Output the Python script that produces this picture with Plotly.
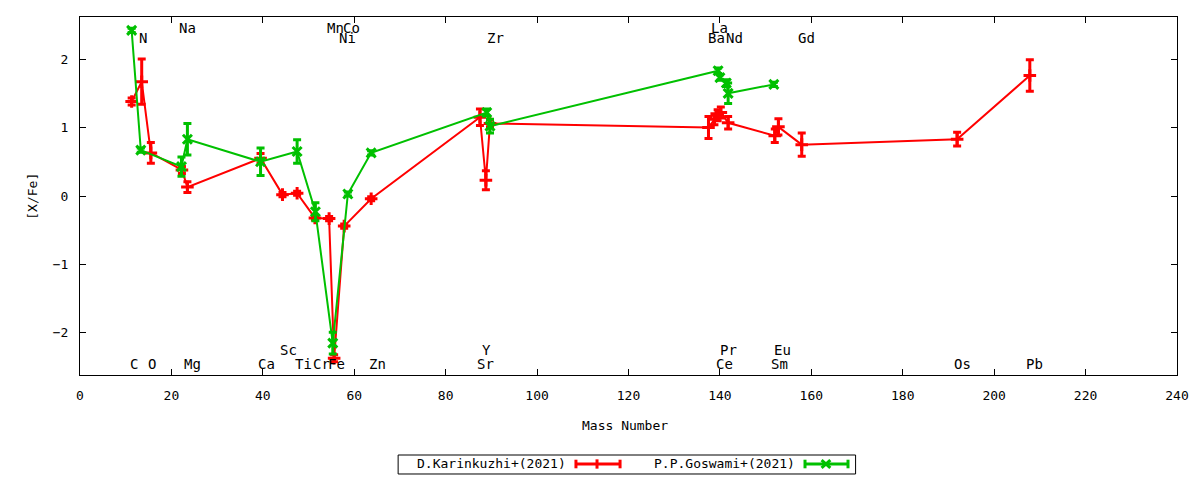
import plotly.graph_objects as go

# D.Karinkuzhi+(2021)
kar_mass = [11.3, 13.5, 15.5, 22.3, 23.5, 39.5, 44.3, 47.5, 51.4, 54.5, 55.6, 57.8, 63.7,
            87.5, 88.8, 89.7, 137.5, 138.8, 139.5, 140.2, 141.8, 152.0, 152.8, 157.9, 191.9, 207.8]
kar_xfe = [1.38, 1.67, 0.63, 0.38, 0.13, 0.55, 0.02, 0.04, -0.32, -0.33, -2.37, -0.44, -0.04,
           1.15, 0.23, 1.06, 1.00, 1.12, 1.18, 1.22, 1.07, 0.88, 1.01, 0.75, 0.83, 1.76]
kar_err = [0.05, 0.33, 0.15, 0.05, 0.08, 0.07, 0.03, 0.03, 0.03, 0.03, 0.05, 0.03, 0.03,
           0.12, 0.14, 0.05, 0.16, 0.08, 0.08, 0.08, 0.09, 0.10, 0.12, 0.17, 0.10, 0.23]

# P.P.Goswami+(2021)
gos_mass = [11.3, 13.3, 22.2, 23.5, 39.5, 47.5, 51.5, 55.3, 58.6, 63.7, 89.0, 89.7,
            139.6, 140.0, 141.4, 141.8, 151.8]
gos_xfe = [2.42, 0.67, 0.43, 0.83, 0.50, 0.65, -0.23, -2.15, 0.03, 0.63, 1.22, 1.02,
           1.83, 1.73, 1.65, 1.50, 1.63]
gos_err = [0.03, 0.03, 0.14, 0.23, 0.20, 0.17, 0.13, 0.16, 0.03, 0.03, 0.05, 0.10,
           0.04, 0.04, 0.05, 0.15, 0.03]

# element labels (name, mass, row)
el_names = ["Na", "Mn", "Co", "La",
            "N", "Ni", "Zr", "Ba", "Nd", "Gd",
            "Sc", "Y", "Pr", "Eu",
            "C", "O", "Mg", "Ca", "Ti", "Cr", "Fe", "Zn", "Sr", "Ce", "Sm", "Os", "Pb"]
el_mass = [23.6, 56.0, 59.5, 140.0,
           13.8, 58.6, 90.8, 139.2, 143.1, 159.0,
           45.7, 89.0, 141.8, 153.8,
           11.8, 15.75, 24.7, 40.9, 49.0, 52.9, 56.2, 65.0, 88.8, 141.1, 153.1, 193.0, 208.9]
el_row = [2.45] * 4 + [2.31] * 6 + [-2.25] * 4 + [-2.45] * 13

RED = "#ff0000"
GREEN = "#00c000"
FONT = "DejaVu Sans Mono"

fig = go.Figure()
fig.add_trace(go.Scatter(x=kar_mass, y=kar_xfe, mode="lines+markers", name="D.Karinkuzhi+(2021)",
                         line=dict(color=RED, width=2),
                         marker=dict(symbol="cross-thin", size=9, line=dict(color=RED, width=3)),
                         error_y=dict(type="data", array=kar_err, color=RED, thickness=3, width=4)))
fig.add_trace(go.Scatter(x=gos_mass, y=gos_xfe, mode="lines+markers", name="P.P.Goswami+(2021)",
                         line=dict(color=GREEN, width=2),
                         marker=dict(symbol="x-thin", size=9, line=dict(color=GREEN, width=3)),
                         error_y=dict(type="data", array=gos_err, color=GREEN, thickness=3, width=4)))

for name, m, r in zip(el_names, el_mass, el_row):
    fig.add_annotation(x=m, y=r, text=name, showarrow=False, xanchor="center", yanchor="middle",
                       font=dict(family=FONT, size=14, color="black"))

# axis titles
fig.add_annotation(x=0.4968, y=-0.1397, xref="paper", yref="paper", text="Mass Number",
                   xanchor="center", yanchor="middle",
                   showarrow=False, font=dict(family=FONT, size=13, color="black"))
fig.add_annotation(x=-0.044, y=0.5, xref="paper", yref="paper", text="[X/Fe]", textangle=-90,
                   xanchor="center", yanchor="middle",
                   showarrow=False, font=dict(family=FONT, size=13, color="black"))

# gnuplot-like key below the plot
ly = -0.2486
fig.add_shape(type="rect", xref="paper", yref="paper", x0=0.290, x1=0.707, y0=-0.2765, y1=-0.2235,
              line=dict(color="black", width=1))
for txt, xt, x0, x1, xm, col, sym in [("D.Karinkuzhi+(2021)", 0.4449, 0.4521, 0.4923, 0.4713, RED, "+"),
                                      ("P.P.Goswami+(2021)", 0.6536, 0.6609, 0.7001, 0.6800, GREEN, "x")]:
    fig.add_annotation(x=xt, y=ly, xref="paper", yref="paper", text=txt, showarrow=False,
                       xanchor="right", yanchor="middle", font=dict(family=FONT, size=13, color="black"))
    fig.add_shape(type="line", xref="paper", yref="paper", x0=x0, x1=x1, y0=ly, y1=ly,
                  line=dict(color=col, width=3))
    for xc in (x0, x1):
        fig.add_shape(type="line", xref="paper", yref="paper", x0=xc, x1=xc, y0=ly - 0.012, y1=ly + 0.012,
                      line=dict(color=col, width=3))
    if sym == "+":
        fig.add_shape(type="line", xref="paper", yref="paper", x0=xm, x1=xm, y0=ly - 0.013, y1=ly + 0.013,
                      line=dict(color=col, width=3))
    else:
        for d in (1, -1):
            fig.add_shape(type="line", xref="paper", yref="paper", x0=xm - 0.004, x1=xm + 0.004,
                          y0=ly - d * 0.011, y1=ly + d * 0.011, line=dict(color=col, width=3))

axis_style = dict(showgrid=False, zeroline=False, showline=True, linecolor="black", linewidth=1,
                  mirror="allticks", ticks="inside", ticklen=6, tickcolor="black",
                  tickfont=dict(family=FONT, size=13, color="black"))
fig.update_xaxes(range=[0, 240], dtick=20, tick0=0, ticklabelstandoff=8, **axis_style)
fig.update_yaxes(range=[-2.615, 2.615], dtick=1, tick0=0, ticklabelstandoff=8, **axis_style)

fig.update_layout(width=1200, height=480, showlegend=False,
                  margin=dict(l=80, r=23, t=17, b=105),
                  plot_bgcolor="white", paper_bgcolor="white",
                  font=dict(family=FONT, size=13, color="black"))

# drop the browser's default body margin so the figure sits at the page corner
fig.write_html("out.html", config={"displayModeBar": False},
               post_script="document.body.style.margin='0';")
